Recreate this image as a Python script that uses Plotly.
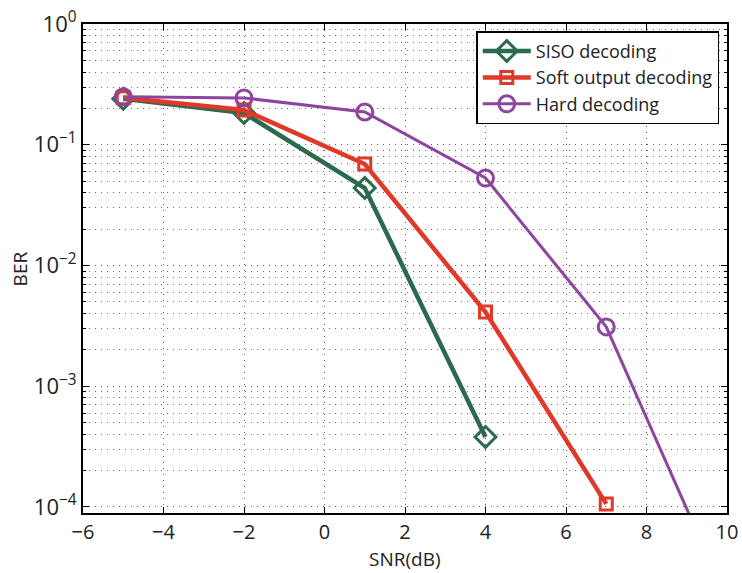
import plotly.graph_objects as go

# SNR points (dB) and measured bit error rates
snr_siso = [-5, -2, 1, 4]
ber_siso = [0.240, 0.183, 0.0438, 3.8e-4]

snr_soft = [-5, -2, 1, 4, 7]
ber_soft = [0.245, 0.194, 0.0693, 0.00412, 1.06e-4]

snr_hard = [-5, -2, 1, 4, 7, 10]
ber_hard = [0.250, 0.244, 0.187, 0.053, 0.0031, 1.7e-5]

x_ticks = [-6, -4, -2, 0, 2, 4, 6, 8, 10]
x_tick_text = ["−6", "−4", "−2", "0", "2", "4", "6", "8", "10"]
y_ticks = [1e-4, 1e-3, 1e-2, 1e-1, 1]
y_tick_text = ["10<sup>−4</sup>", "10<sup>−3</sup>", "10<sup>−2</sup>", "10<sup>−1</sup>", "10<sup>0</sup>"]

GREEN = "#2b6a4c"
RED = "#e0392a"
PURPLE = "#8e45a0"
FONT = "Open Sans"
TEXT = "#222"

fig = go.Figure()
fig.add_trace(go.Scatter(
    x=snr_siso, y=ber_siso, mode="lines+markers", name="SISO decoding",
    line=dict(color=GREEN, width=4.5),
    marker=dict(symbol="diamond-open", size=16, color=GREEN, line=dict(width=3, color=GREEN)),
))
fig.add_trace(go.Scatter(
    x=snr_soft, y=ber_soft, mode="lines+markers", name="Soft output decoding",
    line=dict(color=RED, width=4.5),
    marker=dict(symbol="square-open", size=12, color=RED, line=dict(width=3, color=RED)),
))
fig.add_trace(go.Scatter(
    x=snr_hard, y=ber_hard, mode="lines+markers", name="Hard decoding",
    line=dict(color=PURPLE, width=3),
    marker=dict(symbol="circle-open", size=16, color=PURPLE, line=dict(width=3, color=PURPLE)),
))

minor_y = [m * 10 ** e for e in range(-5, 0) for m in range(2, 10)]

grid = dict(gridcolor="rgba(40,40,40,0.75)", griddash="1px,5px", gridwidth=1)

fig.update_xaxes(
    range=[-6, 10], tickvals=x_ticks, ticktext=x_tick_text,
    showline=True, linecolor="black", linewidth=2, mirror="allticks",
    ticks="inside", ticklen=6, tickcolor="black",
    showgrid=True, zeroline=False, automargin=False, **grid,
    tickfont=dict(family=FONT, size=20, color=TEXT),
)
fig.update_yaxes(
    type="log", range=[-4.05, 0], tickvals=y_ticks, ticktext=y_tick_text,
    showline=True, linecolor="black", linewidth=2, mirror="allticks",
    ticks="inside", ticklen=6, tickcolor="black",
    showgrid=True, zeroline=False, automargin=False, **grid,
    minor=dict(tickvals=minor_y, ticks="inside", ticklen=3, tickcolor="black",
               showgrid=True, gridcolor="rgba(40,40,40,0.65)", griddash="1px,5px", gridwidth=1),
    tickfont=dict(family=FONT, size=22, color=TEXT),
)

# Axis titles placed as annotations relative to the plotting area
fig.add_annotation(text="SNR(dB)", xref="paper", yref="paper", x=0.5, y=-0.094,
                   xanchor="center", yanchor="middle", showarrow=False,
                   font=dict(family=FONT, size=19, color=TEXT))
fig.add_annotation(text="BER", xref="paper", yref="paper", x=-0.098, y=0.5,
                   xanchor="center", yanchor="middle", showarrow=False, textangle=-90,
                   font=dict(family=FONT, size=19, color=TEXT))

fig.update_layout(
    width=742, height=573,
    margin=dict(l=83, r=15, t=24, b=60),
    plot_bgcolor="white", paper_bgcolor="white",
    legend=dict(
        x=0.988, y=0.985, xanchor="right", yanchor="top",
        bgcolor="white", bordercolor="black", borderwidth=1.5,
        font=dict(family=FONT, size=18, color=TEXT),
        tracegroupgap=0, itemwidth=48,
    ),
)

fig.write_html("out.html")
